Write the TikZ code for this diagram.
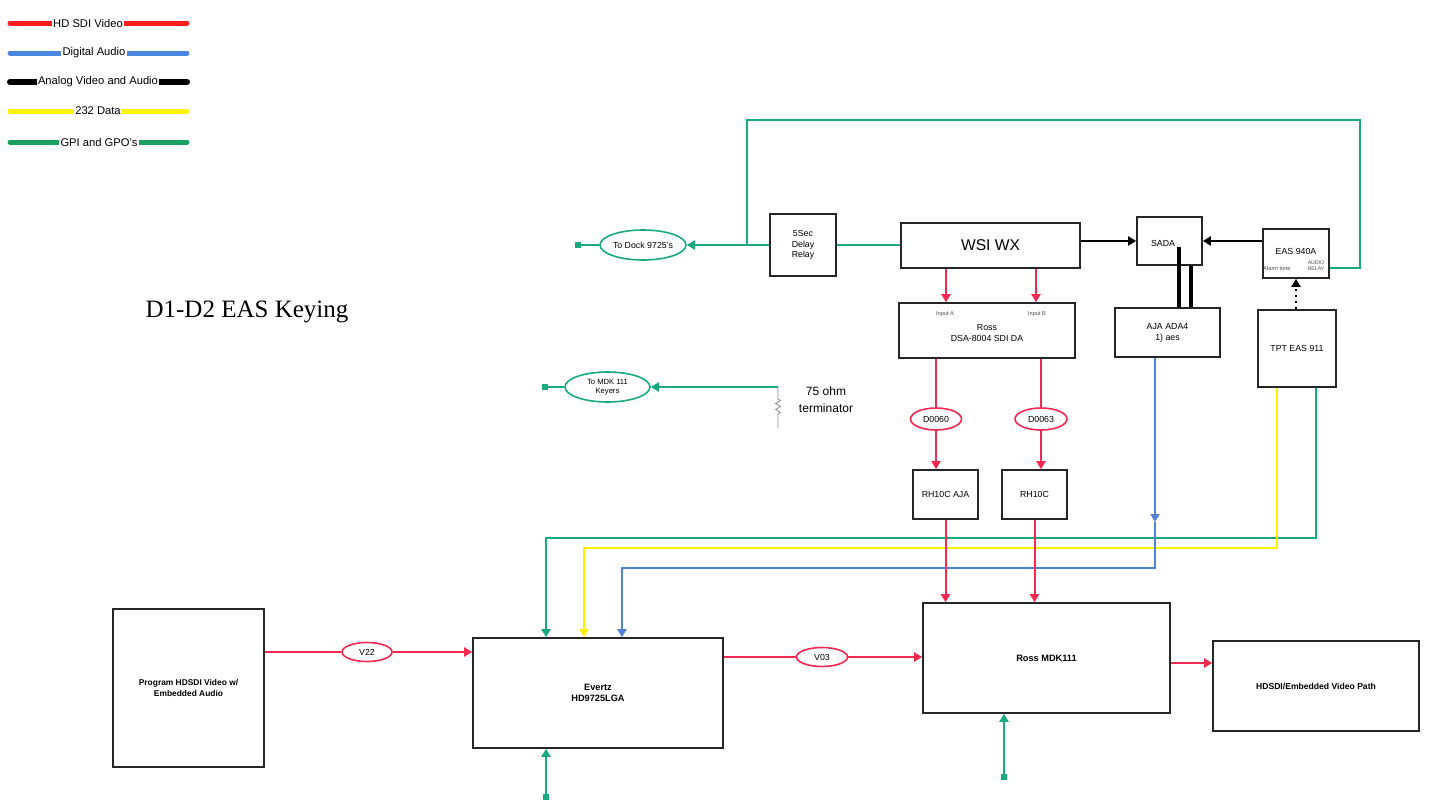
\documentclass[tikz,border=0pt]{standalone}
\usepackage{fontspec}
\setmainfont{Liberation Sans}
\newfontfamily\titlefont{Liberation Serif}
\usetikzlibrary{arrows.meta,shapes.geometric,decorations.pathmorphing}
\definecolor{lgred}{RGB}{255,30,30}
\definecolor{lgblue}{RGB}{74,134,222}
\definecolor{lgyellow}{RGB}{255,245,0}
\definecolor{lggreen}{RGB}{26,160,95}
\definecolor{cred}{RGB}{245,40,80}
\definecolor{cgreen}{RGB}{25,170,125}
\definecolor{cblue}{RGB}{80,130,215}
\definecolor{cyellow}{RGB}{255,240,0}
\tikzset{
  box/.style={draw=black!85, line width=0.8pt, fill=white, align=center, inner sep=0pt},
  oval/.style={ellipse, draw, line width=0.8pt, fill=white, align=center, inner sep=0pt},
  small/.style={font=\fontsize{4.4}{5.4}\selectfont},
  tiny/.style={font=\fontsize{2.8}{3.2}\selectfont, text=black!70, inner sep=0pt, align=center},
  conn/.style={line width=1pt},
  arr/.style={conn, -{Triangle[length=4pt,width=4.5pt]}},
  legline/.style={line width=2.5pt, line cap=round},
  legtext/.style={fill=white, inner sep=0.6pt, font=\fontsize{5.6}{6.5}\selectfont},
  sq/.style={fill=cgreen, minimum size=3pt, inner sep=0pt},
}
\begin{document}
\begin{tikzpicture}[x=0.5pt,y=-0.5pt]
\useasboundingbox (0,0) rectangle (1431,804);

% legend
\draw[legline, lgred] (10,23) -- (187,23);
\node[legtext] (lg1) at (88,23) {HD SDI Video};
\draw[legline, lgblue] (10,53) -- (187,53);
\node[legtext] (lg2) at (94,53) {Digital Audio};
\draw[legline, black, line width=3pt] (10,82) -- (187,82);
\node[legtext] (lg3) at (98,82) {Analog Video and Audio};
\draw[legline, lgyellow] (10,111) -- (187,111);
\node[legtext] (lg4) at (98,111) {232 Data};
\draw[legline, lggreen] (10,142) -- (187,142);
\node[legtext] (lg5) at (99,142) {GPI and GPO's};

% title
\node[font=\titlefont\fontsize{12.5}{15}\selectfont] (title) at (247,312) {D1-D2 EAS Keying};

% boxes
\node[box, small, minimum width=33pt, minimum height=31pt] (delay) at (803,245) {5Sec\\Delay\\Relay};
\node[box, minimum width=89.5pt, minimum height=22.5pt, font=\fontsize{7.8}{9}\selectfont] (wsi) at (990.5,245.5) {WSI WX};
\node[box, small, minimum width=32.5pt, minimum height=24pt] (sada) at (1169.5,241) {};
\node[small] (sadat) at (1163,243) {SADA};
\node[box, small, minimum width=33pt, minimum height=24.5pt] (eas940) at (1296,253.5) {};
\node[small] (eas940t) at (1296,251) {EAS 940A};
\node[tiny] (alarm) at (1277,268) {Alarm tone};
\node[tiny, font=\fontsize{2.6}{3}\selectfont] (relay) at (1316,266) {AUDIO\\RELAY};
\node[box, small, minimum width=52.5pt, minimum height=24.5pt] (ada4) at (1167.5,332.5) {AJA ADA4\\1) aes};
\node[box, small, minimum width=39pt, minimum height=38.5pt] (tpt) at (1297,348.5) {TPT EAS 911};
\node[box, small, minimum width=88pt, minimum height=27.5pt] (dsa) at (987,330.5) {\\Ross\\DSA-8004 SDI DA};
\node[tiny] (ina) at (945,314) {Input A};
\node[tiny] (inb) at (1037,314) {Input B};
\node[box, small, minimum width=32.5pt, minimum height=24.5pt] (rhaja) at (945.5,494.5) {RH10C AJA};
\node[box, small, minimum width=32.5pt, minimum height=24.5pt] (rh) at (1034.5,494.5) {RH10C};
\node[box, small, font=\bfseries\fontsize{4.2}{5.2}\selectfont, minimum width=75.5pt, minimum height=79pt] (program) at (188.5,688) {Program HDSDI Video w/\\Embedded Audio};
\node[box, font=\bfseries\fontsize{4.6}{5.8}\selectfont, minimum width=125pt, minimum height=55pt] (evertz) at (598,693) {Evertz\\HD9725LGA};
\node[box, font=\bfseries\fontsize{4.6}{5.8}\selectfont, minimum width=123.5pt, minimum height=55pt] (mdk) at (1046.5,658) {Ross MDK111};
\node[box, font=\bfseries\fontsize{4.3}{5.4}\selectfont, minimum width=103pt, minimum height=45pt] (path) at (1316,686) {HDSDI/Embedded Video Path};

% ellipses
\node[oval, draw=cgreen, small, minimum width=43pt, minimum height=15pt] (dock) at (643,245) {To Dock 9725's};
\node[oval, draw=cgreen, small, font=\fontsize{3.8}{4.6}\selectfont, minimum width=42.5pt, minimum height=15pt] (mdkkey) at (607.5,387) {To MDK 111\\Keyers};
\node[oval, draw=cred, small, minimum width=25.5pt, minimum height=11pt] (d60) at (936,419) {D0060};
\node[oval, draw=cred, small, minimum width=26pt, minimum height=11pt] (d63) at (1041,419) {D0063};
\node[oval, draw=cred, small, minimum width=25pt, minimum height=9.5pt] (v22) at (367,652) {V22};
\node[oval, draw=cred, small, minimum width=25.5pt, minimum height=9.5pt] (v03) at (822,657) {V03};

% green end squares
\node[sq] (sq1) at (578,245) {};
\node[sq] (sq2) at (545,387) {};
\node[sq] (sq3) at (546,797) {};
\node[sq] (sq4) at (1004,777) {};

% terminator
\coordinate (term) at (778,387);
\coordinate (termb) at (778,428);
\draw[black!45, line width=0.4pt, decorate, decoration={zigzag, amplitude=1.2pt, segment length=3pt, pre length=6pt, post length=6pt}] (term) -- (termb);
\node[font=\fontsize{6}{8.5}\selectfont, align=center] (termt) at (826,400) {75 ohm\\terminator};

% coordinates
\coordinate (j1) at (747,245);
\coordinate (gtop) at (1360,120);
\coordinate (grel) at (1360,268);
\coordinate (xa) at (946,0);
\coordinate (xb) at (1036,0);
\coordinate (blk1) at (1179,247);
\coordinate (blk2) at (1191,0);
\coordinate (bx) at (1155,0);
\coordinate (bmid) at (1155,522);
\coordinate (bcorner) at (622,568);
\coordinate (ycorner) at (584,548);
\coordinate (ytop) at (1277,0);
\coordinate (gcorner) at (546,538);
\coordinate (gtp) at (1316,0);
\coordinate (pout) at (1190,663);

% green connectors
\draw[arr, cgreen] (delay.west) -- (dock.east);
\draw[conn, cgreen] (dock.west) -- (sq1);
\draw[conn, cgreen] (delay.east) -- (wsi.west |- delay.east);
\draw[conn, cgreen] (j1) |- (gtop) -- (grel) -- (eas940.east |- grel);
\draw[arr, cgreen] (term) -- (mdkkey.east);
\draw[conn, cgreen] (mdkkey.west) -- (sq2);
\draw[arr, cgreen] (sq3) -- (evertz.south -| sq3);
\draw[arr, cgreen] (sq4) -- (mdk.south -| sq4);
\draw[arr, cgreen] (tpt.south -| gtp) |- (gcorner) -- (evertz.north -| gcorner);

% yellow
\draw[arr, cyellow] (tpt.south -| ytop) |- (ycorner) -- (evertz.north -| ycorner);

% blue
\draw[arr, cblue] (ada4.south -| bx) -- (bmid);
\draw[arr, cblue] (bmid) |- (bcorner) -- (evertz.north -| bcorner);

% black
\draw[arr, black] (wsi.east |- sada.west) -- (sada.west);
\draw[arr, black] (eas940.west |- sada.east) -- (sada.east);
\draw[arr, black, dotted, line width=1.2pt] (tpt.north -| eas940.south) -- (eas940.south);
\draw[black, line width=1.6pt] (blk1) -- (ada4.north -| blk1);
\draw[black, line width=1.6pt] (sada.south -| blk2) -- (ada4.north -| blk2);

% red
\draw[arr, cred] (wsi.south -| xa) -- (dsa.north -| xa);
\draw[arr, cred] (wsi.south -| xb) -- (dsa.north -| xb);
\draw[conn, cred] (dsa.south -| d60) -- (d60.north);
\draw[arr, cred] (d60.south) -- (rhaja.north -| d60);
\draw[conn, cred] (dsa.south -| d63) -- (d63.north);
\draw[arr, cred] (d63.south) -- (rh.north -| d63);
\draw[arr, cred] (rhaja.south) -- (mdk.north -| rhaja);
\draw[arr, cred] (rh.south) -- (mdk.north -| rh);
\draw[conn, cred] (program.east |- v22) -- (v22.west);
\draw[arr, cred] (v22.east) -- (evertz.west |- v22);
\draw[conn, cred] (evertz.east |- v03) -- (v03.west);
\draw[arr, cred] (v03.east) -- (mdk.west |- v03);
\draw[arr, cred] (mdk.east |- pout) -- (path.west |- pout);
\end{tikzpicture}
\end{document}
